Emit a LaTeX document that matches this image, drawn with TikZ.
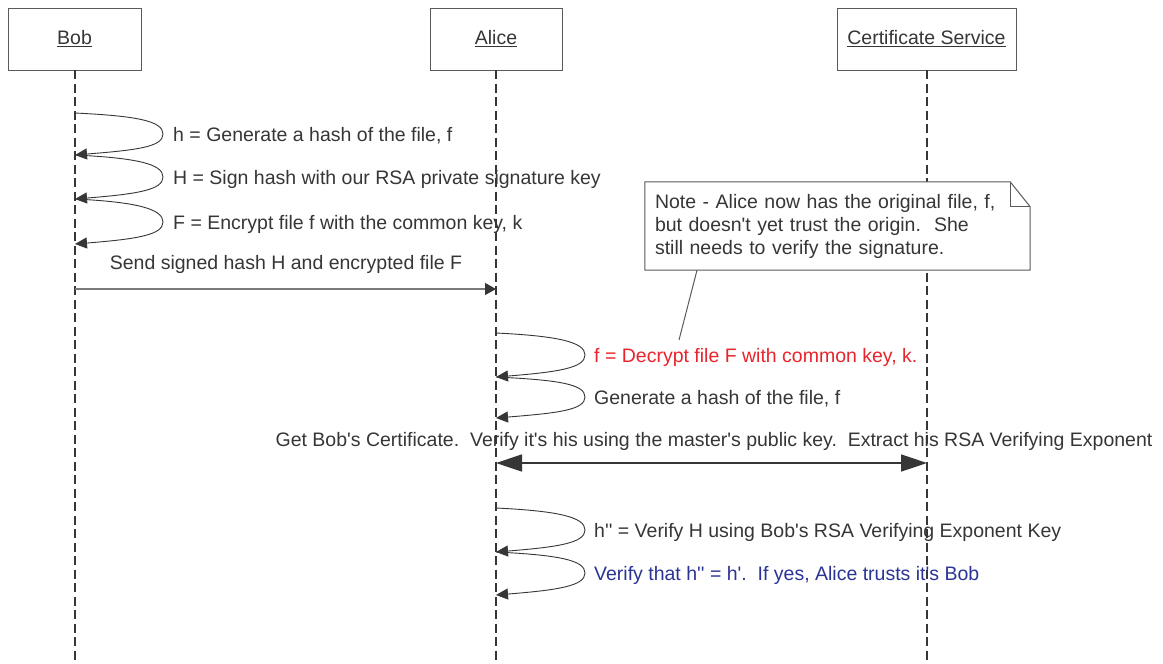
\documentclass[tikz,border=0pt]{standalone}
\usepackage{fontspec}
\setmainfont{Liberation Sans}
\usetikzlibrary{arrows.meta}
\definecolor{ink}{HTML}{363636}
\definecolor{frame}{HTML}{5A5A5A}
\definecolor{msgline}{HTML}{7A7A7A}
\definecolor{alert}{HTML}{E8242C}
\definecolor{calm}{HTML}{2B3495}
\newcommand{\ap}{\textquotesingle}
\tikzset{
  txt/.style={font=\fontsize{19.5}{23}\selectfont, text=ink, inner sep=0pt},
  actor/.style={txt, draw=frame, fill=white, line width=0.9pt, minimum height=62pt},
  lifeline/.style={draw=ink, line width=1.8pt, dash pattern=on 9pt off 4.5pt},
  selfcall/.style={draw=ink, line width=0.9pt, -{Triangle[length=12pt,width=11pt]}},
  call/.style={draw=msgline, line width=1.3pt, -{Triangle[length=11pt,width=12pt,color=ink]}},
  sync/.style={draw=ink, line width=1.5pt,
    {Triangle[length=26pt,width=17pt]}-{Triangle[length=26pt,width=17pt]}},
  lbl/.style={txt, anchor=base west},
  mlbl/.style={txt, anchor=base},
  notebox/.style={txt, minimum width=385pt, minimum height=88pt, inner sep=10pt,
    text width=365pt, align=left},
  noteline/.style={draw=frame, line width=1pt},
}
\newcommand{\loopcall}[3]{% start, apex, end
  \draw[selfcall] (#1) .. controls +(62,3) and +(0,-13) .. (#2)
                       .. controls +(0,13) and +(62,-5) .. (#3);}
\begin{document}
\begin{tikzpicture}[x=1pt,y=-1pt]
\fill[white] (0,0) rectangle (1163,664);
\useasboundingbox (0,0) rectangle (1163,664);

% participants
\node[actor, minimum width=133pt] (bob)   at (74.5,39) {\underline{Bob}};
\node[actor, minimum width=132pt] (alice) at (496,39)  {\underline{Alice}};
\node[actor, minimum width=179pt] (cert)  at (926.5,39) {\underline{Certificate Service}};

% lifelines
\coordinate (bobE)   at (75,664);
\coordinate (aliceE) at (496,664);
\coordinate (certE)  at (927,664);
\draw[lifeline] (75,70) coordinate (bobS) -- (bobE);
\draw[lifeline] (496,70) coordinate (aliceS) -- (aliceE);
\draw[lifeline] (927,70) coordinate (certS) -- (certE);

% Bob's own steps
\coordinate (b0) at (75,113);  \coordinate (bp1) at (163,134);
\coordinate (b1) at (75,155);  \coordinate (bp2) at (163,177);
\coordinate (b2) at (75,199);  \coordinate (bp3) at (163,222);
\coordinate (b3) at (75,244);
\loopcall{b0}{bp1}{b1}
\loopcall{b1}{bp2}{b2}
\loopcall{b2}{bp3}{b3}
\node[lbl] (l1) at ([shift={(10,7)}]bp1) {h = Generate a hash of the file, f};
\node[lbl] (l2) at ([shift={(10,7)}]bp2) {H = Sign hash with our RSA private signature key};
\node[lbl] (l3) at ([shift={(10,7)}]bp3) {F = Encrypt file f with the common key, k};

% Bob -> Alice
\coordinate (s0) at (75,289);
\coordinate (s1) at (496,289);
\draw[call] (s0) -- (s1);
\node[mlbl] (l4) at (286,269) {Send signed hash H and encrypted file F};

% Alice's own steps
\coordinate (a0) at (496,333); \coordinate (ap1) at (585,355);
\coordinate (a1) at (496,377); \coordinate (ap2) at (585,397);
\coordinate (a2) at (496,418);
\loopcall{a0}{ap1}{a1}
\loopcall{a1}{ap2}{a2}
\node[lbl, text=alert] (l5) at ([shift={(9,7)}]ap1) {f = Decrypt file F with common key, k.};
\node[lbl] (l6) at ([shift={(9,7)}]ap2) {Generate a hash of the file, f};

% Alice <-> Certificate Service
\coordinate (c0) at (496,463);
\coordinate (c1) at (927,463);
\draw[sync] (c0) -- (c1);
\node[mlbl] (l7) at (714,446) {Get Bob\ap s Certificate.\ \ Verify it\ap s his using the master\ap s public key.\ \ Extract his RSA Verifying Exponent};

% verification
\coordinate (a3) at (496,508); \coordinate (ap3) at (585,530);
\coordinate (a4) at (496,552); \coordinate (ap4) at (585,573);
\coordinate (a5) at (496,595);
\loopcall{a3}{ap3}{a4}
\loopcall{a4}{ap4}{a5}
\node[lbl] (l8) at ([shift={(9,7)}]ap3) {h\ap\ap{} = Verify H using Bob\ap s RSA Verifying Exponent Key};
\node[lbl, text=calm] (l9) at ([shift={(9,7)}]ap4) {Verify that h\ap\ap{} = h\ap.\ \ If yes, Alice trusts it\ap s Bob};

% note with folded corner
\node[notebox] (note) at (837.5,226) {};
\fill[white] (note.north west) -- ([xshift=-20pt]note.north east) -- ([yshift=-25pt]note.north east)
  -- (note.south east) -- (note.south west) -- cycle;
\node[notebox] (notetext) at (note.center) {Note - Alice now has the original file, f,\\but doesn\ap t yet trust the origin.\ \ She\\still needs to verify the signature.};
\draw[noteline] (note.north west) -- ([xshift=-20pt]note.north east) -- ([yshift=-25pt]note.north east)
  -- (note.south east) -- (note.south west) -- cycle;
\draw[noteline] ([xshift=-20pt]note.north east) -- ([xshift=-20pt,yshift=-25pt]note.north east)
  -- ([yshift=-25pt]note.north east);
\coordinate (notetip) at (679,340);
\draw[noteline] ([xshift=-140.5pt]note.south) -- (notetip);
\end{tikzpicture}
\end{document}
